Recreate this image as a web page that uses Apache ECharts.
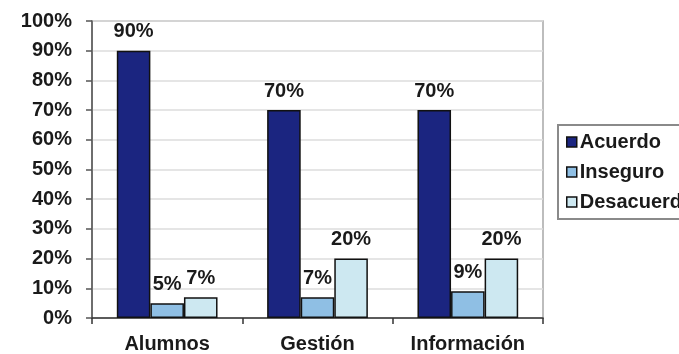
<!DOCTYPE html>
<html>
<head>
<meta charset="utf-8">
<script src="https://cdn.jsdelivr.net/npm/echarts@6/dist/echarts.min.js"></script>
<style>
    html, body { margin: 0; padding: 0; background: #fff; }
    #main { width: 679px; height: 354px; }
</style>
</head>
<body>
<div id="main"></div>
<script>
// datos
let categorias = ['Alumnos', 'Gestión', 'Información'];
let acuerdo = [90, 70, 70];
let inseguro = [5, 7, 9];
let desacuerdo = [7, 20, 20];
let nombres = ['Acuerdo', 'Inseguro', 'Desacuerdo'];
let colores = ['#1b2580', '#8fbfe4', '#cde8f1'];

let fuente = '"Liberation Sans", Arial, sans-serif';

function serie(name, data, color) {
    return {
        name: name,
        type: 'bar',
        data: data,
        barGap: '0%',
        barCategoryGap: '33%',
        itemStyle: {
            color: color,
            borderColor: '#111',
            borderWidth: 1.5
        },
        label: {
            show: true,
            position: 'top',
            distance: 9,
            formatter: '{c}%',
            color: '#1a1a1a',
            fontFamily: fuente,
            fontWeight: 'bold',
            fontSize: 20
        }
    };
}

let chart = echarts.init(document.getElementById('main'));
let option = {
    backgroundColor: '#fff',
    animation: false,
    grid: {
        left: 92,
        right: 136,
        top: 21,
        bottom: 35,
        show: true,
        borderColor: '#a8a8a8',
        borderWidth: 1.5
    },
    legend: {
        orient: 'vertical',
        left: 558,
        top: 125,
        padding: [7, 30, 7, 8],
        borderColor: '#8a8a8a',
        borderWidth: 2,
        itemWidth: 10,
        itemHeight: 10,
        itemGap: 10,
        icon: 'rect',
        data: nombres,
        textStyle: {
            color: '#1a1a1a',
            fontFamily: fuente,
            fontWeight: 'bold',
            fontSize: 20,
            padding: [0, 0, 0, -2]
        },
        itemStyle: {
            borderColor: '#111',
            borderWidth: 1.5
        }
    },
    xAxis: {
        type: 'category',
        data: categorias,
        axisLine: { lineStyle: { color: '#333', width: 1.5 } },
        axisTick: { show: true, length: 6, lineStyle: { color: '#333', width: 1.5 } },
        axisLabel: {
            margin: 16,
            color: '#1a1a1a',
            fontFamily: fuente,
            fontWeight: 'bold',
            fontSize: 20
        }
    },
    yAxis: {
        type: 'value',
        min: 0,
        max: 100,
        interval: 10,
        axisLine: { show: true, lineStyle: { color: '#555', width: 1.5 } },
        axisTick: { show: true, length: 6, lineStyle: { color: '#555', width: 1.5 } },
        splitLine: { lineStyle: { color: '#dcdcdc', width: 1.5 } },
        axisLabel: {
            margin: 20,
            formatter: '{value}%',
            color: '#1a1a1a',
            fontFamily: fuente,
            fontWeight: 'bold',
            fontSize: 20
        }
    },
    series: [
        serie(nombres[0], acuerdo, colores[0]),
        serie(nombres[1], inseguro, colores[1]),
        serie(nombres[2], desacuerdo, colores[2])
    ]
};
chart.setOption(option);
</script>
</body>
</html>
